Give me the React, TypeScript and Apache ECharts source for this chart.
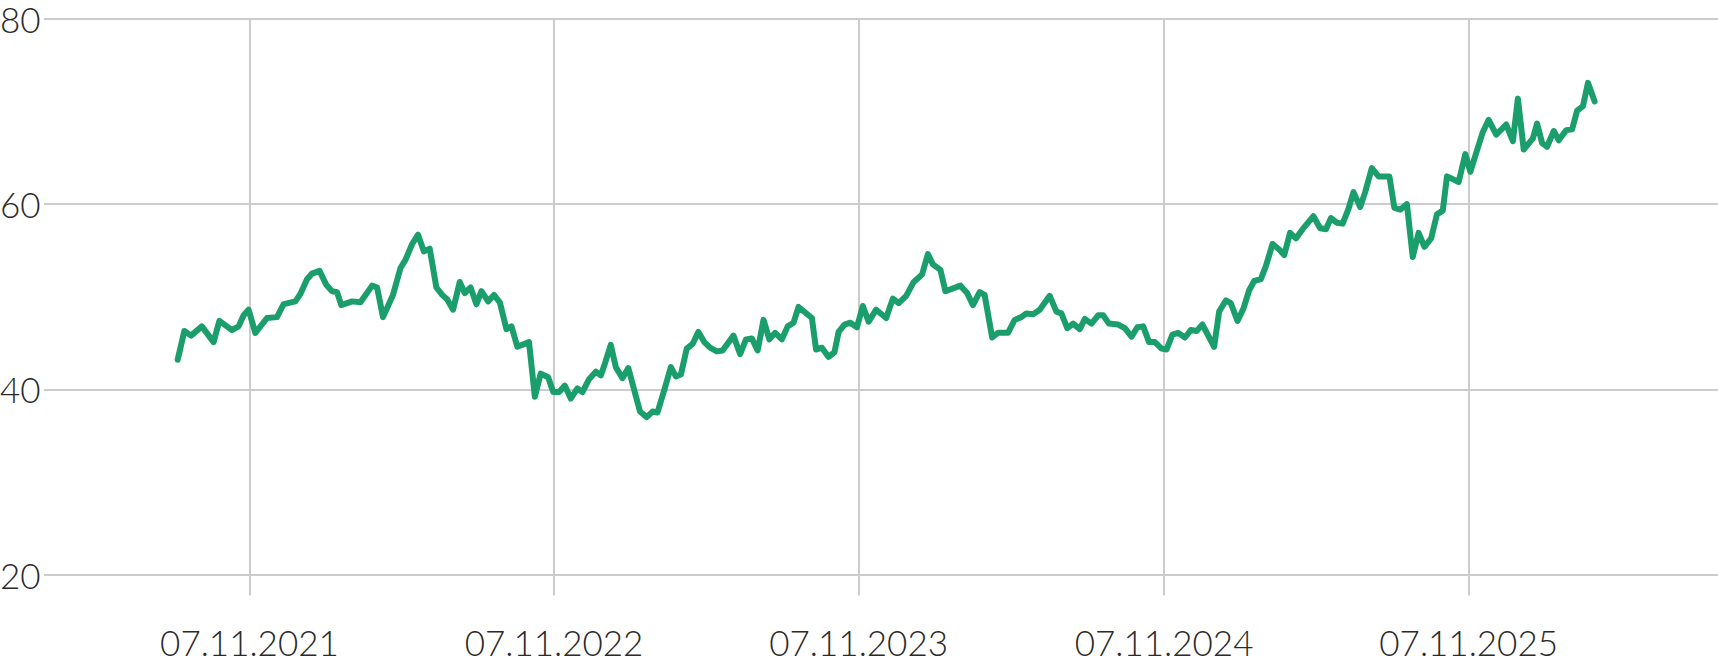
import React, { useEffect, useRef } from "react";
import * as echarts from "echarts";

// Day offsets from 07.11.2021 and values
const dayOffsets: number[] = [
  -86, -78, -70, -57, -43, -36, -21, -13, -7, -1,
  7, 21, 33, 41, 55, 61, 69, 75, 84, 92,
  99, 105, 110, 123, 133, 147, 153, 160, 172, 181,
  187, 195, 202, 209, 216, 224, 231, 237, 244, 252,
  258, 265, 272, 278, 286, 293, 300, 308, 314, 321,
  335, 342, 349, 358, 364, 371, 378, 385, 393, 399,
  407, 415, 421, 426, 433, 439, 447, 454, 468, 476,
  483, 489, 497, 505, 511, 517, 524, 531, 538, 545,
  552, 560, 567, 580, 588, 595, 602, 609, 616, 623,
  630, 638, 645, 652, 658, 674, 679, 686, 694, 701,
  706, 713, 720, 728, 735, 742, 751, 763, 771, 778,
  787, 796, 806, 813, 819, 828, 834, 852, 860, 867,
  875, 881, 890, 897, 909, 917, 925, 931, 939, 947,
  959, 967, 973, 980, 987, 995, 1001, 1009, 1017, 1023,
  1030, 1041, 1049, 1057, 1064, 1071, 1078, 1085, 1093, 1099,
  1106, 1113, 1121, 1128, 1135, 1142, 1156, 1162, 1170, 1176,
  1184, 1191, 1198, 1204, 1212, 1218, 1226, 1234, 1240, 1247,
  1254, 1262, 1275, 1283, 1290, 1296, 1303, 1310, 1317, 1323,
  1331, 1337, 1345, 1353, 1366, 1372, 1379, 1387, 1394, 1401,
  1408, 1416, 1423, 1430, 1435, 1449, 1457, 1463, 1471, 1478,
  1485, 1494, 1506, 1514, 1520, 1527, 1538, 1543, 1549, 1555,
  1563, 1569, 1578, 1585, 1591, 1598, 1604, 1612,
];

const values: number[] = [
  43.2, 46.3, 45.8, 46.8, 45.1, 47.4, 46.4, 46.8, 48.0, 48.6,
  46.1, 47.7, 47.8, 49.2, 49.5, 50.3, 51.9, 52.5, 52.8, 51.3,
  50.6, 50.5, 49.1, 49.5, 49.4, 51.2, 51.0, 47.8, 50.2, 53.1,
  54.0, 55.7, 56.7, 54.9, 55.2, 51.0, 50.2, 49.7, 48.6, 51.6,
  50.4, 51.0, 49.2, 50.6, 49.5, 50.2, 49.4, 46.5, 46.8, 44.6,
  45.1, 39.2, 41.7, 41.3, 39.7, 39.7, 40.4, 39.0, 40.1, 39.7,
  41.1, 41.9, 41.5, 42.8, 44.8, 42.4, 41.2, 42.3, 37.6, 37.0,
  37.6, 37.5, 39.9, 42.4, 41.4, 41.6, 44.4, 44.9, 46.2, 45.1,
  44.5, 44.1, 44.2, 45.8, 43.8, 45.4, 45.5, 44.2, 47.5, 45.4,
  46.1, 45.4, 46.8, 47.2, 48.9, 47.7, 44.3, 44.5, 43.5, 44.0,
  46.2, 47.0, 47.2, 46.7, 49.0, 47.3, 48.6, 47.7, 49.8, 49.3,
  50.1, 51.6, 52.4, 54.6, 53.5, 52.9, 50.6, 51.2, 50.4, 49.1,
  50.5, 50.2, 45.6, 46.1, 46.1, 47.5, 47.8, 48.2, 48.1, 48.6,
  50.1, 48.4, 48.2, 46.6, 47.1, 46.5, 47.6, 47.1, 48.0, 48.0,
  47.1, 47.0, 46.6, 45.7, 46.7, 46.8, 45.1, 45.1, 44.4, 44.3,
  45.9, 46.1, 45.6, 46.4, 46.3, 47.0, 44.6, 48.4, 49.6, 49.3,
  47.4, 48.7, 50.7, 51.7, 51.9, 53.3, 55.7, 55.1, 54.5, 56.9,
  56.3, 57.3, 58.7, 57.4, 57.3, 58.5, 58.0, 57.9, 59.5, 61.3,
  59.7, 61.3, 63.9, 63.0, 63.0, 59.6, 59.4, 60.0, 54.3, 56.9,
  55.4, 56.3, 58.9, 59.3, 63.0, 62.4, 65.4, 63.5, 65.8, 67.8,
  69.1, 67.5, 68.6, 66.8, 71.4, 65.9, 67.1, 68.7, 66.6, 66.2,
  67.9, 66.9, 68.0, 68.1, 70.1, 70.6, 73.1, 71.1,
];

// Tick dates and their day offsets from 07.11.2021
const tickLabels: string[] = ["07.11.2021", "07.11.2022", "07.11.2023", "07.11.2024", "07.11.2025"];
const tickOffsets: number[] = [0, 365, 730, 1096, 1461];
const yTicks: number[] = [20, 40, 60, 80];

export default function App() {
  const ref = useRef<HTMLDivElement>(null);
  useEffect(() => {
    if (!ref.current) return;
    const chart = echarts.init(ref.current, undefined, { renderer: "svg" });
    const data = dayOffsets.map((d, i) => [d, values[i]]);
    const textStyle = {
      fontFamily: "Lato, 'Open Sans', sans-serif",
      fontWeight: 300 as any,
      fontSize: 35,
      color: "#2a2a2a",
    };
    chart.setOption({
      animation: false,
      grid: {
        left: 44,
        right: 0,
        top: 19,
        bottom: 83.5,
        containLabel: false,
        outerBoundsMode: "none",
      },
      xAxis: {
        type: "value",
        min: -246.2,
        max: 1759.8,
        axisLine: { show: false },
        axisTick: {
          show: true,
          length: 21,
          lineStyle: { color: "#cccccc", width: 2 },
          customValues: tickOffsets,
        },
        splitLine: { show: true, lineStyle: { color: "#cccccc", width: 2 } },
        axisLabel: {
          ...textStyle,
          margin: 50,
          customValues: tickOffsets,
          formatter: (v: number) => {
            const i = tickOffsets.indexOf(Math.round(v));
            return i >= 0 ? tickLabels[i] : "";
          },
        },
      },
      yAxis: {
        type: "value",
        min: yTicks[0],
        max: yTicks[yTicks.length - 1],
        interval: 20,
        axisLine: { show: false },
        axisTick: { show: false },
        splitLine: { show: true, lineStyle: { color: "#cccccc", width: 2 } },
        axisLabel: { ...textStyle, margin: 44, align: "left" },
      },
      series: [
        {
          type: "line",
          data,
          showSymbol: false,
          symbol: "none",
          lineStyle: { color: "#1a9e6c", width: 6, join: "round", cap: "round" },
          itemStyle: { color: "#1a9e6c" },
        },
      ],
    });
    return () => chart.dispose();
  }, []);
  return (
    <div
      ref={ref}
      style={{ position: "absolute", left: 0, top: 0, width: 1718, height: 658 }}
    />
  );
}
